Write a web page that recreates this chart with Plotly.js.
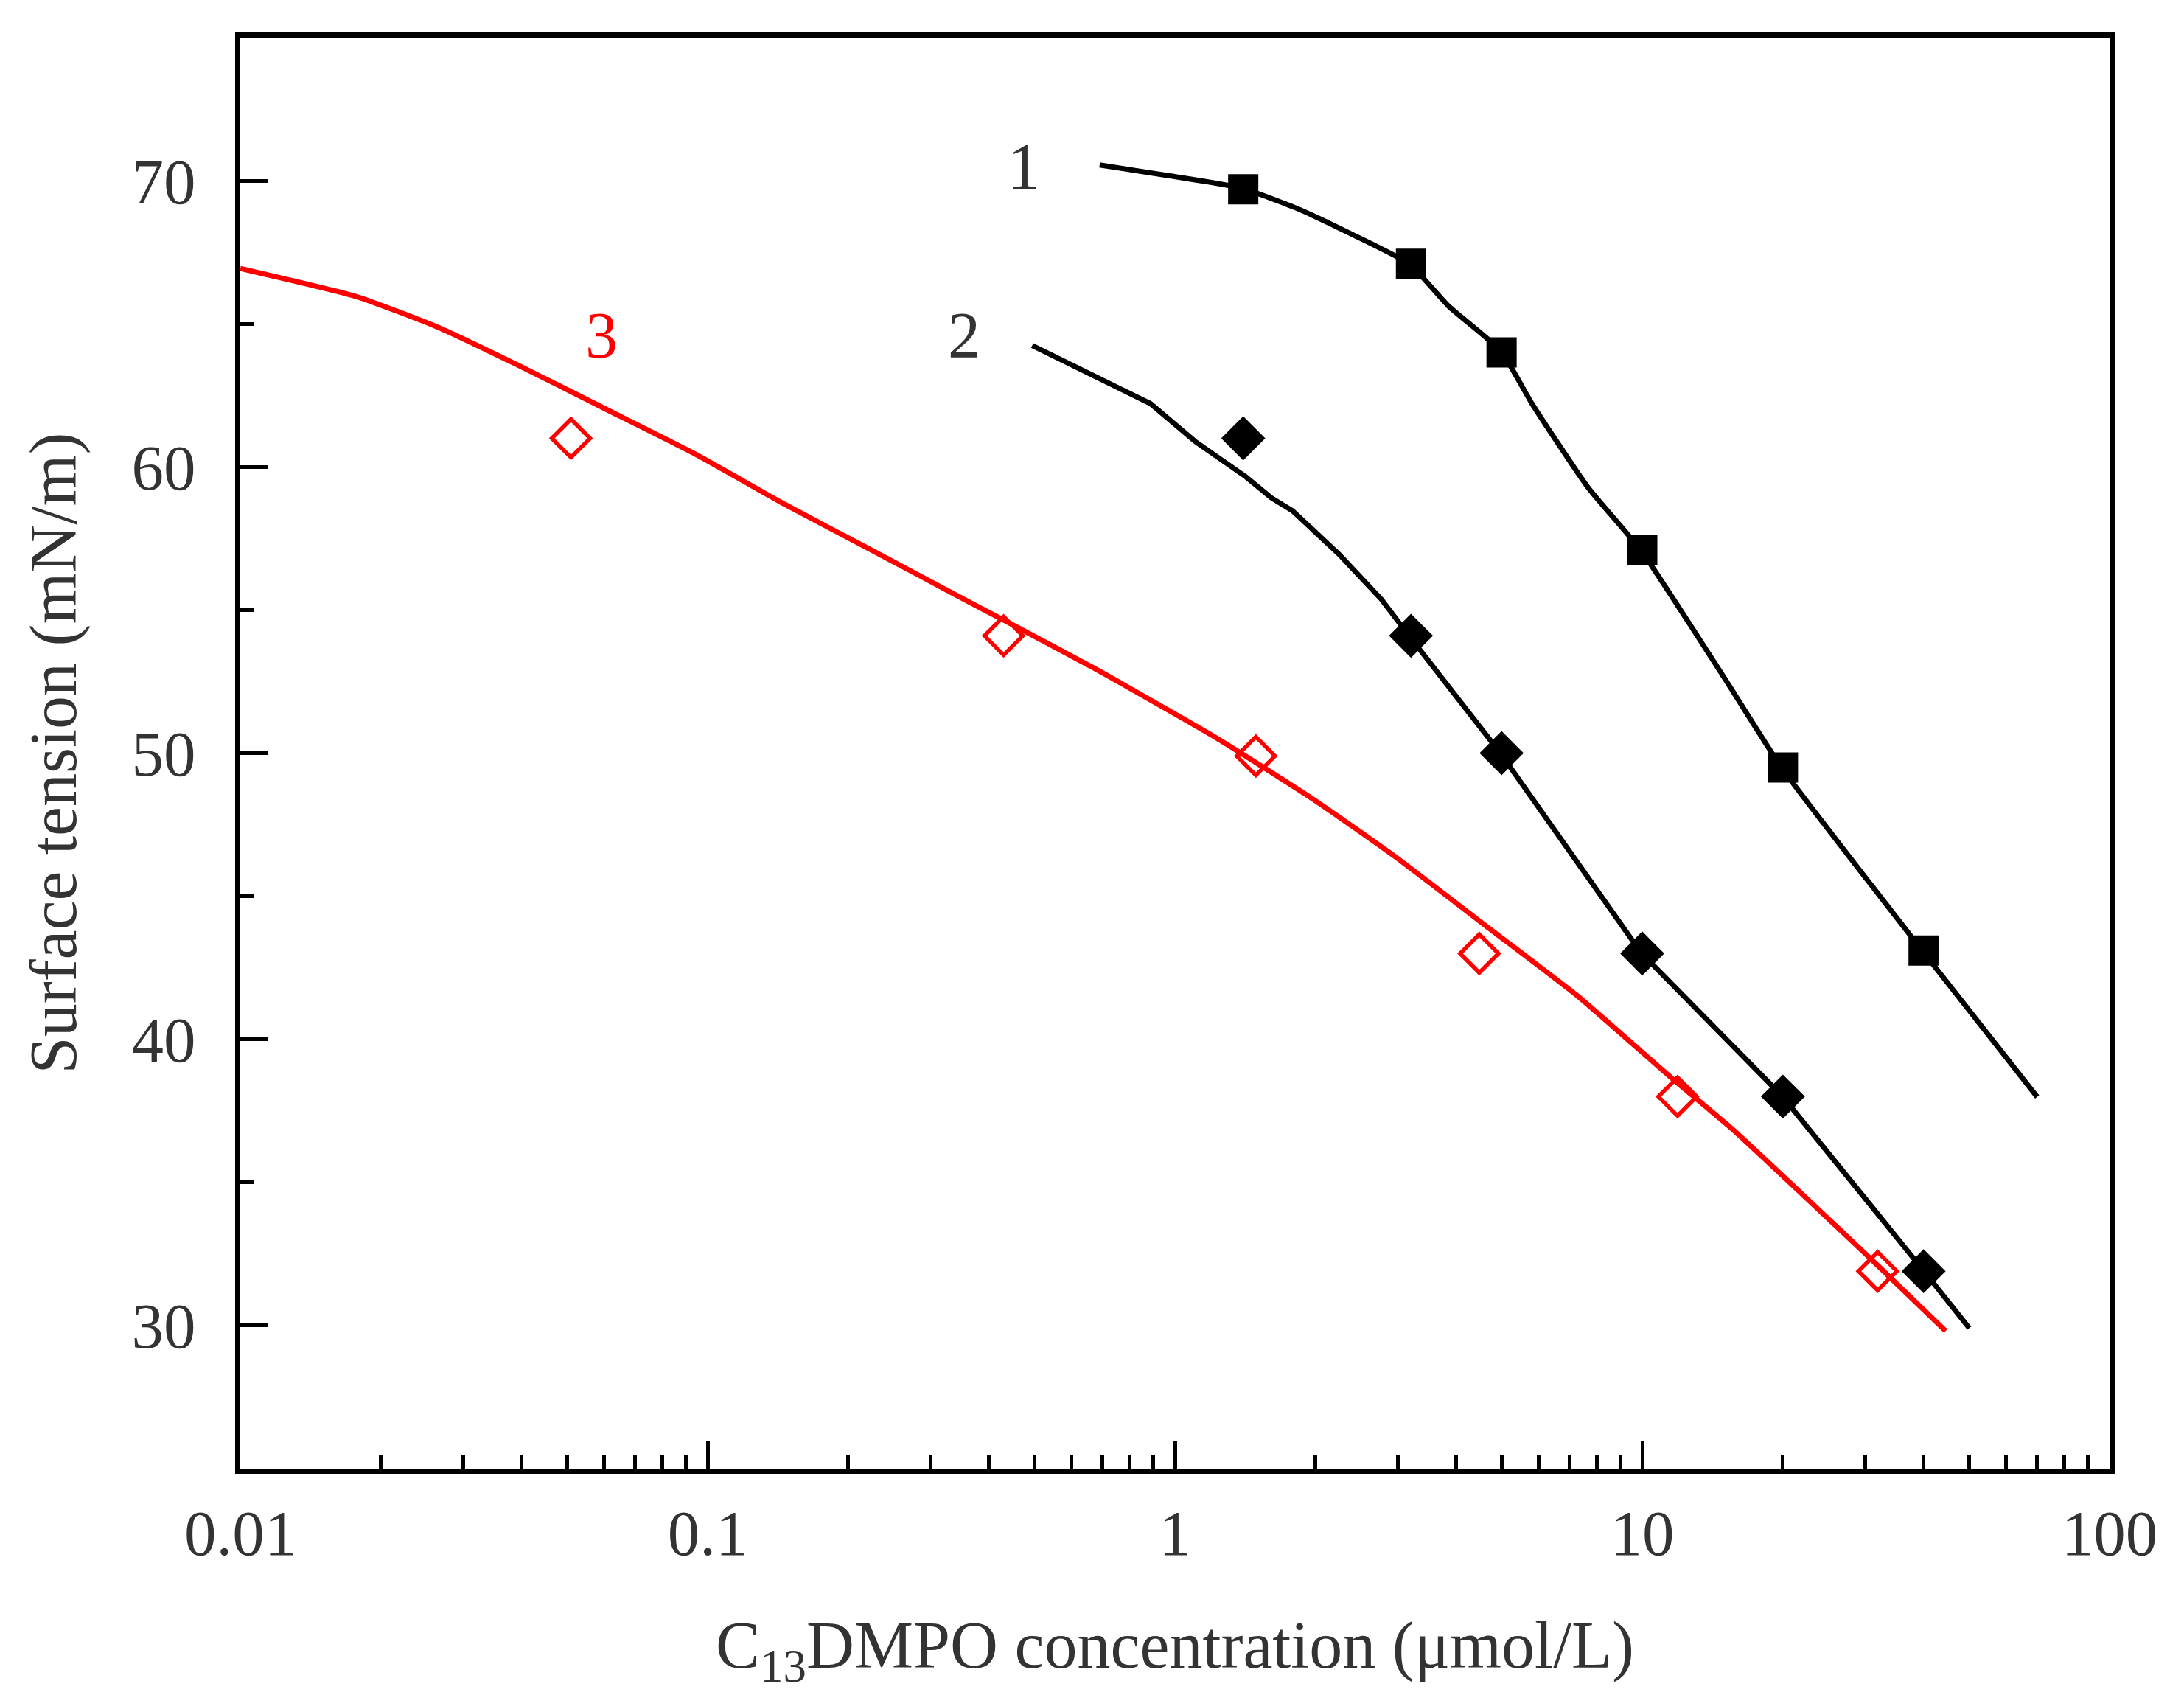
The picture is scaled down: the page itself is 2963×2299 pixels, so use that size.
<!DOCTYPE html>
<html>
<head>
<meta charset="utf-8">
<script src="https://cdn.plot.ly/plotly-3.0.1.min.js"></script>
<style>
  html, body { margin: 0; padding: 0; background: #ffffff; }
  #chart { width: 2963px; height: 2299px; }
</style>
</head>
<body>
<div id="chart"></div>
<script>
// ---- measured data (concentration in umol/L, surface tension in mN/m) ----
const conc1 = [1.4, 3.2, 5, 10, 20, 40];
const tension1 = [69.7, 67.1, 64.0, 57.1, 49.5, 43.1];

const conc2 = [1.4, 3.2, 5, 10, 20, 40];
const tension2 = [61.0, 54.1, 50.0, 43.0, 38.0, 31.9];

const conc3 = [0.051, 0.43, 1.49, 4.48, 11.9, 31.9];
const tension3 = [61.0, 54.1, 49.9, 43.0, 38.0, 31.9];

// ---- fitted curves ----
const fit1Conc = [0.69, 0.975, 1.39, 1.82, 2.39, 3.18, 3.85, 4.98, 5.81, 7.65, 9.95, 15.2, 19.9, 39.9, 70.0];
const fit1Tension = [70.55, 70.17, 69.74, 69.04, 68.13, 67.08, 65.62, 64.05, 62.21, 59.29, 57.07, 52.47, 49.48, 43.06, 37.99];

const fit2Conc = [0.495, 0.887, 1.105, 1.417, 1.608, 1.785, 2.244, 2.764, 3.18, 4.96, 9.95, 19.9, 39.9, 50.1];
const fit2Tension = [64.24, 62.21, 60.89, 59.66, 58.92, 58.47, 56.95, 55.38, 54.07, 50.02, 43.02, 38.03, 31.94, 29.91];

const fit3Conc = [0.01, 0.0178, 0.0264, 0.0389, 0.0604, 0.0938, 0.1457, 0.2262, 0.3514, 0.438, 0.680, 1.227, 1.993, 2.99, 4.71, 7.29, 11.48, 15.57, 31.9, 44.6];
const fit3Tension = [66.93, 65.94, 64.89, 63.59, 62.03, 60.46, 58.71, 57.06, 55.40, 54.58, 52.92, 50.53, 48.35, 46.33, 43.87, 41.50, 38.69, 36.87, 32.1, 29.81];

// ---- curve labels ----
const labelText = ["1", "2", "3"];
const labelConc = [0.475, 0.354, 0.0593];
const labelTension = [70.5, 64.6, 64.6];
const labelColors = ["#333333", "#333333", "#ff0000"];

// ---- axis ticks ----
const xTickVals = [0.01, 0.1, 1, 10, 100];
const xTickText = ["0.01", "0.1", "1", "10", "100"];
const yTickVals = [30, 40, 50, 60, 70];

const FONT = "'Liberation Serif', 'Times New Roman', serif";
const TEXT = "#333333";

const traces = [
  { x: fit1Conc, y: fit1Tension, mode: "lines", line: { color: "#000000", width: 7, shape: "spline", smoothing: 0.5 }, hoverinfo: "skip" },
  { x: fit2Conc, y: fit2Tension, mode: "lines", line: { color: "#000000", width: 7 }, hoverinfo: "skip" },
  { x: fit3Conc, y: fit3Tension, mode: "lines", line: { color: "#ff0000", width: 7, shape: "spline", smoothing: 0.5 }, hoverinfo: "skip" },
  { x: conc1, y: tension1, mode: "markers", marker: { symbol: "square", size: 41, color: "#000000" } },
  { x: conc2, y: tension2, mode: "markers", marker: { symbol: "diamond", size: 46, color: "#000000" } },
  { x: conc3, y: tension3, mode: "markers",
    marker: { symbol: "diamond-open", size: 40, color: "#ff0000", line: { color: "#ff0000", width: 5.5 } } }
];

const annotations = labelText.map((t, i) => ({
  x: Math.log10(labelConc[i]), y: labelTension[i], xref: "x", yref: "y",
  text: t, showarrow: false, font: { family: FONT, size: 88, color: labelColors[i] },
  xanchor: "center", yanchor: "middle"
}));

const layout = {
  width: 2963, height: 2299,
  paper_bgcolor: "#ffffff", plot_bgcolor: "#ffffff",
  showlegend: false,
  margin: { l: 326, r: 101, t: 51, b: 307 },
  font: { family: FONT, color: TEXT },
  xaxis: {
    type: "log", range: [-2, 2], autorange: false,
    tickmode: "array", tickvals: xTickVals, ticktext: xTickText,
    ticks: "inside", ticklen: 37, tickwidth: 5, tickcolor: "#000000",
    minor: { dtick: "D1", ticks: "inside", ticklen: 19, tickwidth: 5, tickcolor: "#000000", showgrid: false },
    showline: true, linecolor: "#000000", linewidth: 7, mirror: true,
    showgrid: false, zeroline: false,
    tickfont: { family: FONT, size: 87, color: TEXT },
    ticklabelstandoff: 6,
    title: { text: "C<sub>13</sub>DMPO concentration (μmol/L)", font: { family: FONT, size: 90, color: TEXT }, standoff: 74 },
    automargin: false
  },
  yaxis: {
    range: [25, 75], autorange: false,
    tickmode: "array", tickvals: yTickVals,
    ticks: "inside", ticklen: 38, tickwidth: 5, tickcolor: "#000000",
    minor: { dtick: 5, tick0: 25, ticks: "inside", ticklen: 18, tickwidth: 5, tickcolor: "#000000", showgrid: false },
    showline: true, linecolor: "#000000", linewidth: 7, mirror: true,
    showgrid: false, zeroline: false,
    tickfont: { family: FONT, size: 87, color: TEXT },
    ticklabelstandoff: 36,
    title: { text: "Surface tension (mN/m)", font: { family: FONT, size: 90, color: TEXT }, standoff: 48 },
    automargin: false
  },
  annotations: annotations
};

Plotly.newPlot("chart", traces, layout, { displayModeBar: false, staticPlot: true });
</script>
</body>
</html>
